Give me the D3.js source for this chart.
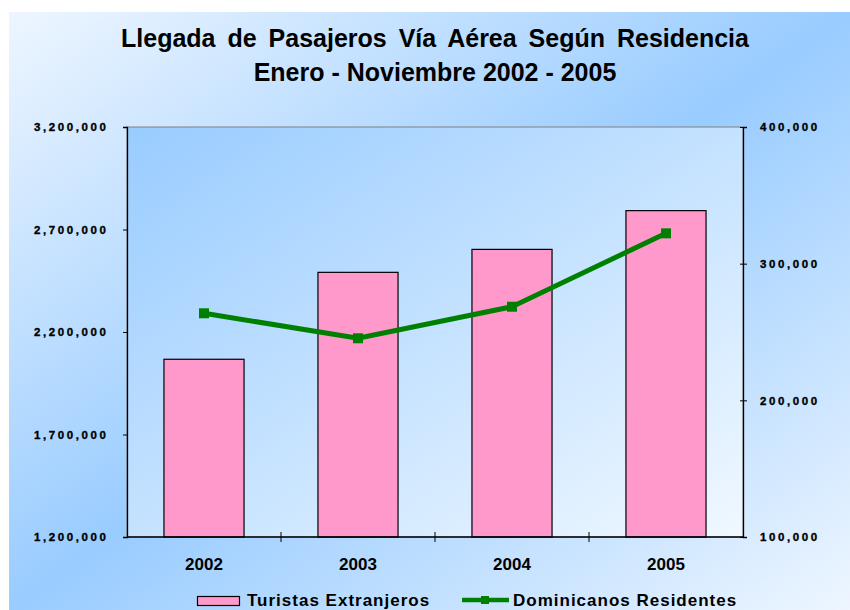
<!DOCTYPE html>
<html>
<head>
<meta charset="utf-8">
<script src="https://cdn.jsdelivr.net/npm/d3@7"></script>
<style>
  body { margin: 0; background: #fff; }
  text { font-family: "Liberation Sans", Arial, sans-serif; font-weight: bold; fill: #000; }
</style>
</head>
<body>
<div id="chart"></div>
<script>
// data
var years = ["2002", "2003", "2004", "2005"];
var turistas = [2067000, 2491000, 2603000, 2792000];
var dominicanos = [263700, 245400, 268500, 322200];
var leftTicks = [1200000, 1700000, 2200000, 2700000, 3200000];
var rightTicks = [100000, 200000, 300000, 400000];
var titleLines = ["Llegada de Pasajeros Vía Aérea Según Residencia", "Enero - Noviembre 2002 - 2005"];
var seriesNames = ["Turistas Extranjeros", "Dominicanos Residentes"];

var width = 850, height = 610;
var margin = {top: 127, right: 107, bottom: 73, left: 127};
var plotW = width - margin.left - margin.right;
var plotH = height - margin.top - margin.bottom;

var svg = d3.select('#chart').append('svg')
    .attr('width', width)
    .attr('height', height);

var defs = svg.append('defs');
var outerGrad = defs.append('linearGradient')
    .attr('id', 'outerGrad')
    .attr('x1', 0).attr('y1', 0).attr('x2', 1).attr('y2', 1);
outerGrad.append('stop').attr('offset', 0).attr('stop-color', '#eef6ff');
outerGrad.append('stop').attr('offset', 0.5).attr('stop-color', '#99ccff');
outerGrad.append('stop').attr('offset', 1).attr('stop-color', '#eef6ff');

var plotGrad = defs.append('linearGradient')
    .attr('id', 'plotGrad')
    .attr('x1', 0).attr('y1', 0).attr('x2', 1).attr('y2', 1);
plotGrad.append('stop').attr('offset', 0).attr('stop-color', '#99ccff');
plotGrad.append('stop').attr('offset', 1).attr('stop-color', '#f0f8ff');

svg.append('rect')
    .attr('x', 9).attr('y', 12)
    .attr('width', width - 9).attr('height', height - 12)
    .attr('fill', 'url(#outerGrad)');

// title
svg.selectAll('text.title')
    .data(titleLines)
    .enter().append('text')
    .attr('class', 'title')
    .attr('x', 435)
    .attr('y', function (d, i) { return 47 + i * 34; })
    .attr('text-anchor', 'middle')
    .style('font-size', '25px')
    .style('word-spacing', function (d, i) { return i === 0 ? '5px' : null; })
    .text(function (d) { return d; });

var g = svg.append('g')
    .attr('transform', 'translate(' + margin.left + ',' + margin.top + ')');

g.append('rect')
    .attr('width', plotW).attr('height', plotH)
    .attr('fill', 'url(#plotGrad)')
    .attr('stroke', '#808080');

var x = d3.scaleBand()
    .domain(years)
    .range([0, plotW])
    .paddingInner(0.48)
    .paddingOuter(0.24);

var yL = d3.scaleLinear().domain([1200000, 3200000]).range([plotH, 0]);
var yR = d3.scaleLinear().domain([100000, 400000]).range([plotH, 0]);

// bars
g.selectAll('rect.bar')
    .data(turistas)
    .enter().append('rect')
    .attr('class', 'bar')
    .attr('x', function (d, i) { return x(years[i]); })
    .attr('y', function (d) { return yL(d); })
    .attr('width', x.bandwidth())
    .attr('height', function (d) { return plotH - yL(d); })
    .attr('fill', '#ff99cc')
    .attr('stroke', '#000')
    .attr('stroke-width', 1.2);

// axes
var fmt = d3.format(',');
var axL = g.append('g')
    .call(d3.axisLeft(yL).tickValues(leftTicks).tickFormat(fmt).tickSize(4).tickPadding(17));
var axR = g.append('g')
    .attr('transform', 'translate(' + plotW + ',0)')
    .call(d3.axisRight(yR).tickValues(rightTicks).tickFormat(fmt).tickSize(4).tickPadding(13));
axR.selectAll('.tick line').attr('x1', -3);

[axL, axR].forEach(function (ax) {
    ax.select('.domain').attr('stroke', '#000').attr('stroke-width', 1.3);
    ax.selectAll('.tick line').attr('stroke', '#000');
    ax.selectAll('text')
        .style('font-size', '11.5px')
        .style('letter-spacing', '2.6px')
        .attr('font-family', null)
        .attr('fill', '#000')
        .attr('stroke', '#000')
        .attr('stroke-width', 0.35);
});
axL.selectAll('text').attr('dx', '2.6px');

// category axis
g.append('line')
    .attr('x1', 0).attr('x2', plotW)
    .attr('y1', plotH).attr('y2', plotH)
    .attr('stroke', '#000').attr('stroke-width', 1.3);
g.selectAll('line.cat')
    .data(years.slice(1))
    .enter().append('line')
    .attr('class', 'cat')
    .attr('x1', function (d) { return x(d) - x.step() * 0.24; })
    .attr('x2', function (d) { return x(d) - x.step() * 0.24; })
    .attr('y1', plotH - 5).attr('y2', plotH + 5)
    .attr('stroke', '#000');
g.selectAll('text.cat')
    .data(years)
    .enter().append('text')
    .attr('class', 'cat')
    .attr('x', function (d) { return x(d) + x.bandwidth() / 2; })
    .attr('y', plotH + 33)
    .attr('text-anchor', 'middle')
    .style('font-size', '17px')
    .text(function (d) { return d; });

// line series
var line = d3.line()
    .x(function (d, i) { return x(years[i]) + x.bandwidth() / 2; })
    .y(function (d) { return yR(d); });

g.append('path')
    .datum(dominicanos)
    .attr('d', line)
    .attr('fill', 'none')
    .attr('stroke', '#008000')
    .attr('stroke-width', 5);

g.selectAll('rect.mark')
    .data(dominicanos)
    .enter().append('rect')
    .attr('class', 'mark')
    .attr('x', function (d, i) { return x(years[i]) + x.bandwidth() / 2 - 5; })
    .attr('y', function (d) { return yR(d) - 5; })
    .attr('width', 10).attr('height', 10)
    .attr('fill', '#008000');

// legend
var leg = svg.append('g').attr('transform', 'translate(0,601)');
leg.append('rect')
    .attr('x', 197.5).attr('y', -4.5)
    .attr('width', 42).attr('height', 9)
    .attr('fill', '#ff99cc').attr('stroke', '#000').attr('stroke-width', 1.2);
leg.append('line')
    .attr('x1', 462).attr('x2', 509)
    .attr('y1', -1).attr('y2', -1)
    .attr('stroke', '#008000').attr('stroke-width', 4.5);
leg.append('rect')
    .attr('x', 481).attr('y', -5)
    .attr('width', 8).attr('height', 8)
    .attr('fill', '#008000');
leg.selectAll('text')
    .data(seriesNames)
    .enter().append('text')
    .attr('x', function (d, i) { return i === 0 ? 247 : 513; })
    .attr('y', 5)
    .style('font-size', '17px')
    .style('letter-spacing', '1px')
    .text(function (d) { return d; });
</script>
</body>
</html>
